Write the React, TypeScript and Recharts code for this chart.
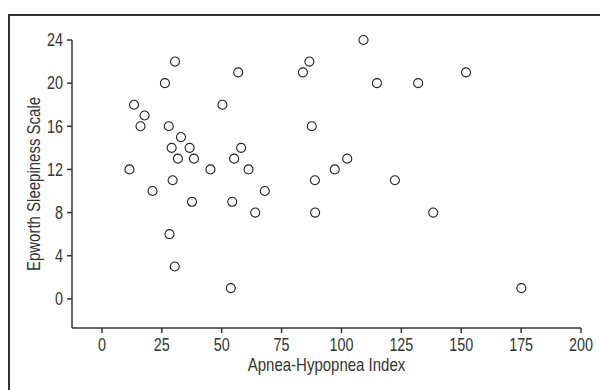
import { Scatter, ScatterChart, XAxis, YAxis, ZAxis } from "recharts";

// Apnea-Hypopnea Index (x) and Epworth Sleepiness Scale (y), one entry per patient
const apneaHypopneaIndex = [
  11.5, 13.4, 16.1, 17.8, 21.1, 26.3, 27.9, 28.2, 29.1, 29.5, 30.5, 30.4, 31.7,
  33.0, 36.6, 37.6, 38.4, 45.3, 50.3, 53.8, 54.4, 55.2, 56.9, 58.1, 61.2, 64.0,
  68.0, 83.9, 86.6, 87.6, 88.9, 89.0, 97.2, 102.4, 109.2, 114.8, 122.3, 132.0,
  138.3, 152.0, 175.1
];

const epworthScores = [
  12, 18, 16, 17, 10, 20, 16, 6, 14, 11, 22, 3, 13, 15, 14, 9, 13, 12, 18, 1, 9,
  13, 21, 14, 12, 8, 10, 21, 22, 16, 11, 8, 12, 13, 24, 20, 11, 20, 8, 21, 1
];

const xTicks = [0, 25, 50, 75, 100, 125, 150, 175, 200];
const yTicks = [0, 4, 8, 12, 16, 20, 24];

const patients = apneaHypopneaIndex.map((ahi, index) => ({
  ahi,
  ess: epworthScores[index]
}));

// no condensed Helvetica here, so squeeze Liberation Sans horizontally
const fontFamily = "'Liberation Sans', Arial, sans-serif";
const squeeze = 0.82;
const inkColor = "#333";

function XTick({ x, y, payload }: any) {
  return (
    <text
      transform={`translate(${x},${y}) scale(${squeeze},1)`}
      textAnchor="middle"
      dy="0.71em"
      fontSize={17.5}
      fontFamily={fontFamily}
      fill={inkColor}
    >
      {payload.value}
    </text>
  );
}

function YTick({ x, y, payload }: any) {
  return (
    <text
      transform={`translate(${x},${y}) scale(${squeeze},1)`}
      textAnchor="end"
      dy="0.36em"
      fontSize={17.5}
      fontFamily={fontFamily}
      fill={inkColor}
    >
      {payload.value}
    </text>
  );
}

function XTitle({ viewBox }: any) {
  const cx = viewBox.x + viewBox.width / 2;
  return (
    <text
      transform={`translate(${cx},${viewBox.y + 43}) scale(${squeeze},1)`}
      textAnchor="middle"
      fontSize={18.3}
      fontFamily={fontFamily}
      fill={inkColor}
    >
      Apnea-Hypopnea Index
    </text>
  );
}

function YTitle({ viewBox }: any) {
  const cy = viewBox.y + viewBox.height / 2;
  return (
    <text
      transform={`translate(${viewBox.x + 27.5},${cy}) rotate(-90) scale(${squeeze},1)`}
      textAnchor="middle"
      fontSize={18.3}
      fontFamily={fontFamily}
      fill={inkColor}
    >
      Epworth Sleepiness Scale
    </text>
  );
}

export default function App() {
  const axisLine = { stroke: inkColor, strokeWidth: 1.5 };

  return (
    <div style={{ position: "absolute", left: 0, top: 0, width: 600, height: 390, overflow: "hidden", background: "#fff" }}>
      <div
        style={{
          position: "absolute",
          left: 8,
          top: 14,
          width: 640,
          height: 420,
          borderTop: `2px solid ${inkColor}`,
          borderLeft: `2px solid ${inkColor}`
        }}
      />
      <div style={{ position: "absolute", left: 0, top: 0 }}>
        <ScatterChart width={600} height={390} margin={{ top: 40, right: 19, bottom: 12, left: 12 }}>
          <XAxis
            type="number"
            dataKey="ahi"
            domain={[-12.5, 200]}
            ticks={xTicks}
            height={50}
            tickSize={5}
            tickMargin={6}
            tick={<XTick />}
            axisLine={axisLine}
            tickLine={axisLine}
            label={<XTitle />}
          />
          <YAxis
            type="number"
            dataKey="ess"
            domain={[-2.7, 24]}
            ticks={yTicks}
            width={60}
            tickSize={5}
            tickMargin={4}
            tick={<YTick />}
            axisLine={axisLine}
            tickLine={axisLine}
            label={<YTitle />}
          />
          <ZAxis range={[30, 30]} />
          <Scatter
            data={patients}
            shape="circle"
            fill="#fff"
            stroke="#222"
            strokeWidth={1.1}
            isAnimationActive={false}
          />
        </ScatterChart>
      </div>
    </div>
  );
}
